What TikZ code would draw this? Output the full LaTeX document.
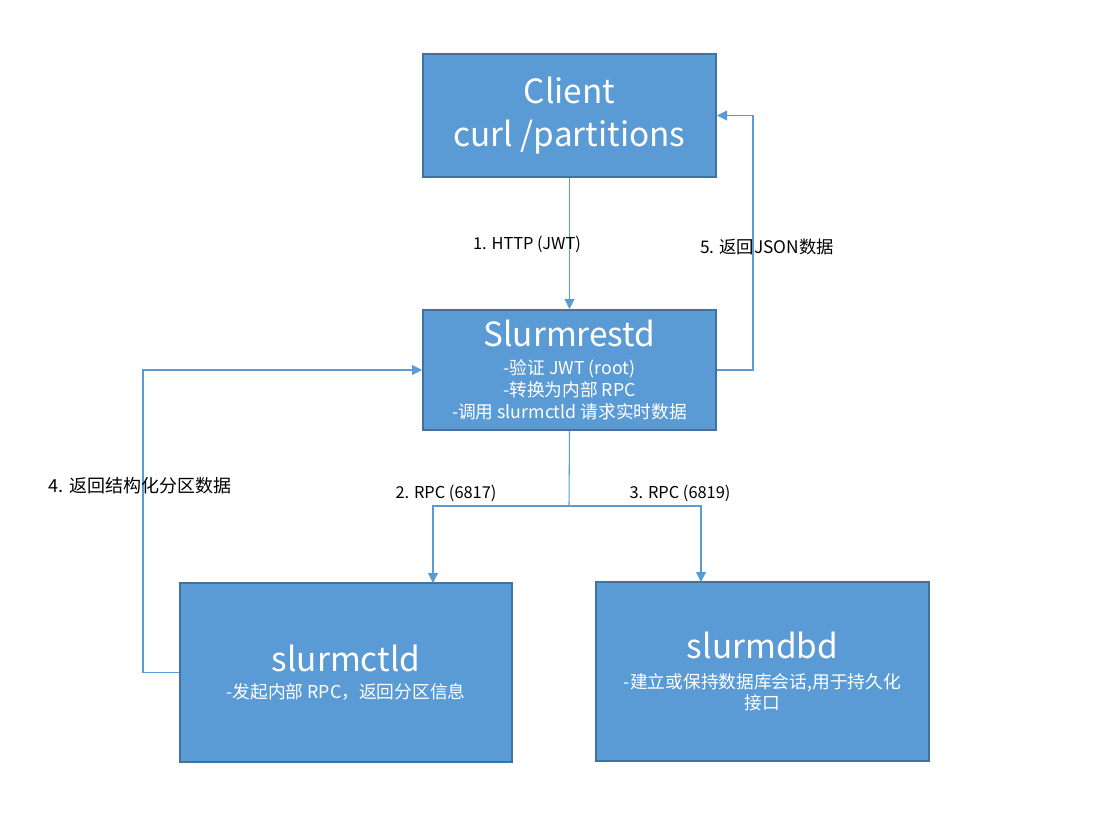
\documentclass[tikz,border=0pt]{standalone}
\usepackage{fontspec}
\setmainfont{Noto Sans CJK SC}
\usetikzlibrary{arrows.meta,calc}
\definecolor{boxfill}{HTML}{5B9BD5}
\definecolor{boxline}{HTML}{41719C}
\definecolor{conncol}{HTML}{5B9BD5}
\newcommand{\ttlfont}{\fontsize{25}{32}\selectfont}
\newcommand{\subfnt}{\fontsize{13.3}{16.5}\selectfont}
\tikzset{
  box/.style={draw=boxline, line width=1.5pt, fill=boxfill, text=white, align=center, inner sep=0pt, font=\subfnt},
  conn/.style={draw=conncol, line width=0.8pt, -{Triangle[length=7.5pt,width=7.5pt]}},
  lbl/.style={text=black, font=\fontsize{13}{15}\selectfont, inner sep=1pt}
}
\begin{document}
\begin{tikzpicture}[x=0.75pt,y=-0.75pt]
\useasboundingbox (0,0) rectangle (1098,834);
\node[box, font=\ttlfont, minimum width=293*0.75pt, minimum height=123*0.75pt] (client) at (569.5,115.5)
  {Client\\curl /partitions};
\node[box, minimum width=293*0.75pt, minimum height=120*0.75pt] (rest) at (569.5,370)
  {{\ttlfont Slurmrestd}\\[4pt]-验证 JWT (root)\\-转换为内部 RPC\\-调用 slurmctld 请求实时数据};
\node[box, minimum width=332*0.75pt, minimum height=179*0.75pt] (ctld) at (346,672.5)
  {{\ttlfont slurmctld}\\[4pt]-发起内部 RPC，返回分区信息};
\node[box, minimum width=333*0.75pt, minimum height=179*0.75pt] (dbd) at (762.5,671.5)
  {{\ttlfont slurmdbd}\\[6pt]-建立或保持数据库会话,用于持久化\\[-1pt]接口};
\coordinate (j) at (569,506);
\coordinate (ctldin) at (433,583);
\coordinate (dbdin) at (701,582);
\draw[conn] (client) -- (rest);
\draw[conn] (rest.east) -- ++(36,0) |- (client.east);
\draw[conn] (ctld.west) -- ++(-36,0) |- (rest.west);
\draw[conn, -] (rest.south) -- (j);
\draw[conn] (j) -| (ctldin);
\draw[conn] (j) -| (dbdin);
\node[lbl, font=\fontsize{12.3}{15}\selectfont] (l1) at (527,244) {1. HTTP (JWT)};
\node[lbl] (l5) at (767,247) {5. 返回JSON数据};
\node[lbl, font=\fontsize{12.3}{15}\selectfont] (l2) at (446,493) {2. RPC (6817)};
\node[lbl, font=\fontsize{12.3}{15}\selectfont] (l3) at (680,493) {3. RPC (6819)};
\node[lbl, font=\fontsize{13.5}{15}\selectfont] (l4) at (140,486) {4. 返回结构化分区数据};
\end{tikzpicture}
\end{document}
